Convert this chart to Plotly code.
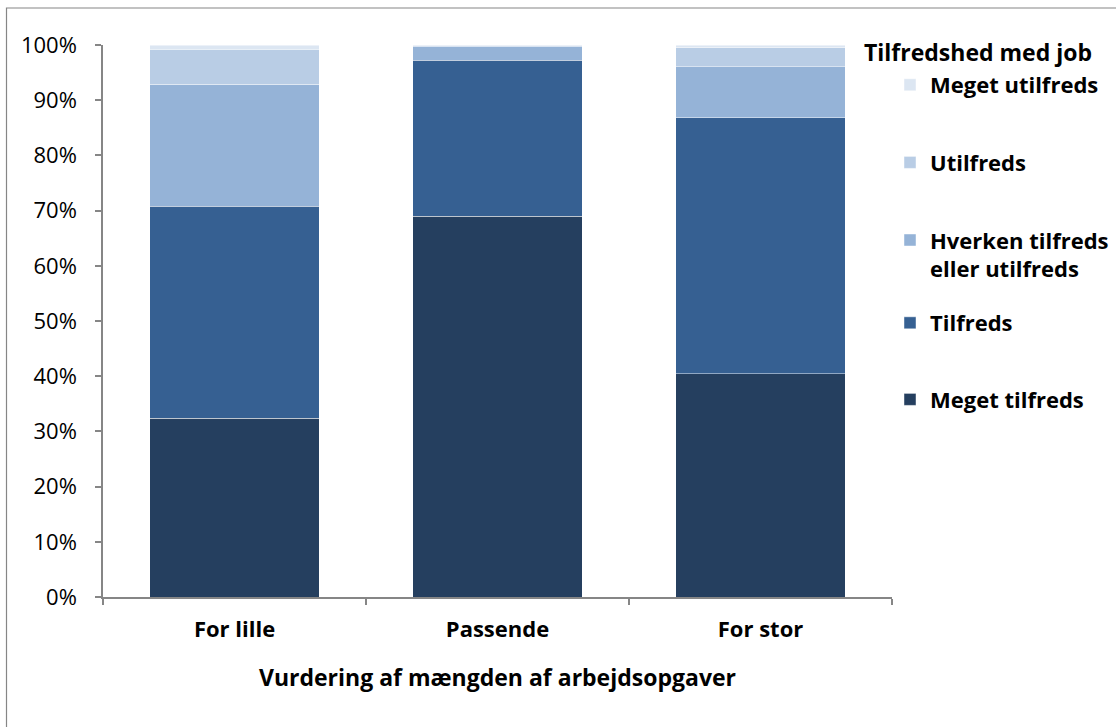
import plotly.graph_objects as go

categories = ["For lille", "Passende", "For stor"]
series_names = ["Meget tilfreds", "Tilfreds", "Hverken tilfreds<br>eller utilfreds", "Utilfreds", "Meget utilfreds"]
meget_tilfreds = [32.4, 69.0, 40.4]
tilfreds = [38.4, 28.2, 46.4]
hverken = [22.1, 2.5, 9.3]
utilfreds = [6.3, 0.2, 3.4]
meget_utilfreds = [0.8, 0.1, 0.5]
colors = ["#253F5F", "#366092", "#95B3D7", "#B9CDE5", "#DCE6F2"]
legend_ids = ["legend2", "legend2", "legend", "legend", "legend"]
y_ticks = [0, 10, 20, 30, 40, 50, 60, 70, 80, 90, 100]
y_tick_labels = [f"{v}%" for v in y_ticks]

FONT = "Open Sans"
values = [meget_tilfreds, tilfreds, hverken, utilfreds, meget_utilfreds]

fig = go.Figure()
for i, (name, vals, col, lg) in enumerate(zip(series_names, values, colors, legend_ids)):
    fig.add_trace(go.Bar(
        x=categories, y=vals, name=name,
        marker=dict(color=col, line=dict(color="rgba(255,255,255,0.45)", width=1)),
        legendgroup=f"g{i}", legendrank=len(values) - i, legend=lg,
    ))

legend_style = dict(
    xref="container", yref="container", xanchor="left", yanchor="top",
    traceorder="grouped",
    font=dict(family=FONT, size=22, color="black", weight="bold"),
    valign="top", bgcolor="rgba(0,0,0,0)",
)

fig.update_layout(
    barmode="stack",
    bargap=0.354,
    width=1116, height=727,
    margin=dict(l=103, r=224, t=45, b=130, autoexpand=False),
    paper_bgcolor="white", plot_bgcolor="white",
    font=dict(family=FONT, size=22, color="black"),
    showlegend=True,
    legend=dict(x=890 / 1116, y=1 - 64 / 727, tracegroupgap=46, **legend_style),
    legend2=dict(x=890 / 1116, y=1 - 302 / 727, tracegroupgap=45, **legend_style),
    xaxis=dict(
        showline=True, linecolor="#868686", linewidth=1.5,
        ticks="outside", ticklen=6, tickcolor="#868686", tickwidth=1.5,
        tickson="boundaries", ticklabelstandoff=12,
        tickfont=dict(family=FONT, size=22, weight="bold"),
        title=dict(text="Vurdering af mængden af arbejdsopgaver",
                   font=dict(family=FONT, size=23, weight="bold"), standoff=28),
    ),
    yaxis=dict(
        range=[0, 100], tickvals=y_ticks, ticktext=y_tick_labels,
        showline=True, linecolor="#868686", linewidth=1.5,
        ticks="outside", ticklen=6, tickcolor="#868686", tickwidth=1.5,
        showgrid=False, zeroline=False, ticklabelstandoff=14,
        tickfont=dict(family=FONT, size=22),
    ),
    annotations=[dict(
        text="Tilfredshed med job", xref="paper", yref="paper",
        x=(862 - 103) / 789, y=(597 - 52) / 552, xanchor="left", yanchor="middle",
        showarrow=False, font=dict(family=FONT, size=23, weight="bold"),
    )],
    shapes=[dict(
        type="rect", xref="paper", yref="paper",
        x0=(6.5 - 103) / 789, x1=(1130 - 103) / 789,
        y0=(597 - 740) / 552, y1=(597 - 8) / 552,
        line=dict(color="#868686", width=1.2), fillcolor="rgba(0,0,0,0)",
    )],
)

fig.write_html("out.html", config={"displayModeBar": False},
               post_script="document.body.style.margin='0';document.body.style.padding='0';")
